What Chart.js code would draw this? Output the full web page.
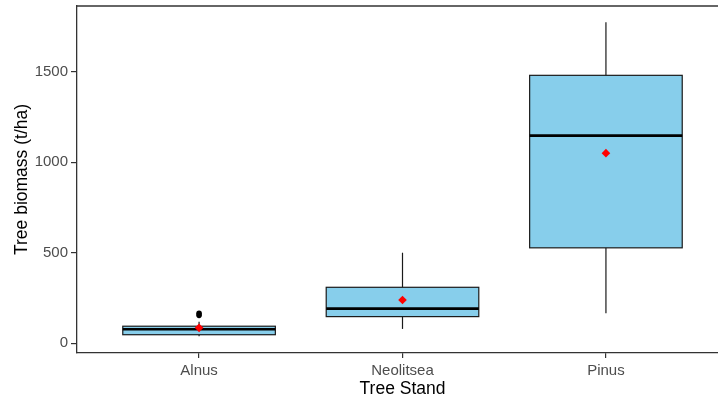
<!DOCTYPE html>
<html lang="en">
<head>
  <meta charset="UTF-8">
  <title>Tree biomass by stand</title>
  <script src="https://cdn.jsdelivr.net/npm/chart.js"></script>
  <style>
    body { margin: 0; overflow: hidden; background: #fff; }
    .wrap { position: relative; width: 730px; height: 400px; }
  </style>
</head>
<body>
  <div class="wrap"><canvas id="chart" width="730" height="400"></canvas></div>

  <script>
    // Box plot summary per stand
    const categories = ['Alnus', 'Neolitsea', 'Pinus'];
    const whiskerLow = [39, 79, 166];
    const q1 = [47, 147, 527];
    const median = [77, 191, 1147];
    const q3 = [94, 309, 1480];
    const whiskerHigh = [119, 500, 1773];
    const means = [85, 239, 1050];
    const outliers = [[154, 166], [], []];
    const yTicks = [0, 500, 1000, 1500];

    const boxHalf = 0.375;
    const font = 'Liberation Sans, Arial, sans-serif';

    function line(ctx, x1, y1, x2, y2) {
      ctx.beginPath();
      ctx.moveTo(x1, y1);
      ctx.lineTo(x2, y2);
      ctx.stroke();
    }

    // draws boxes, whiskers and medians through the chart scales
    const boxPlugin = {
      id: 'boxes',
      beforeDatasetsDraw(chart) {
        const { ctx, scales: { x, y } } = chart;
        ctx.save();
        categories.forEach((c, i) => {
          const cx = x.getPixelForValue(i + 1);
          const left = x.getPixelForValue(i + 1 - boxHalf);
          const right = x.getPixelForValue(i + 1 + boxHalf);
          const top = y.getPixelForValue(q3[i]);
          const bottom = y.getPixelForValue(q1[i]);

          ctx.strokeStyle = '#1a1a1a';
          ctx.lineWidth = 1.2;
          line(ctx, cx, y.getPixelForValue(whiskerLow[i]), cx, bottom);
          line(ctx, cx, top, cx, y.getPixelForValue(whiskerHigh[i]));

          ctx.fillStyle = '#87CEEB';
          ctx.fillRect(left, top, right - left, bottom - top);
          ctx.strokeRect(left, top, right - left, bottom - top);

          ctx.strokeStyle = '#000';
          ctx.lineWidth = 2.6;
          const ym = y.getPixelForValue(median[i]);
          line(ctx, left, ym, right, ym);
        });
        ctx.restore();
      },
      afterDraw(chart) {
        // top border of the panel
        const { ctx, chartArea } = chart;
        ctx.save();
        ctx.strokeStyle = '#333';
        ctx.lineWidth = 1.3;
        line(ctx, chartArea.left, chartArea.top, chartArea.right, chartArea.top);
        ctx.restore();
      }
    };

    const outlierPoints = [];
    outliers.forEach((list, i) => list.forEach(v => outlierPoints.push({ x: i + 1, y: v })));

    new Chart(document.getElementById('chart'), {
      type: 'scatter',
      data: {
        datasets: [
          {
            label: 'Outliers',
            data: outlierPoints,
            pointStyle: 'circle',
            pointRadius: 2.8,
            backgroundColor: '#000',
            borderColor: '#000',
            borderWidth: 0
          },
          {
            label: 'Mean',
            data: means.map((v, i) => ({ x: i + 1, y: v })),
            pointStyle: 'rectRot',
            pointRadius: 4.3,
            backgroundColor: '#ff0000',
            borderColor: '#ff0000',
            borderWidth: 0
          }
        ]
      },
      options: {
        responsive: false,
        animation: false,
        layout: { autoPadding: false, padding: { top: 6, right: 2, left: 0, bottom: 0 } },
        plugins: {
          legend: { display: false },
          tooltip: { enabled: false }
        },
        scales: {
          x: {
            type: 'linear',
            min: 0.4,
            max: 3.6,
            afterBuildTicks: s => { s.ticks = categories.map((c, i) => ({ value: i + 1 })); },
            afterFit: s => { s.height = 47; s.paddingLeft = 0; s.paddingRight = 0; },
            ticks: {
              callback: v => categories[v - 1],
              color: '#4d4d4d',
              font: { family: font, size: 15 },
              padding: 4,
              maxRotation: 0
            },
            grid: { display: true, drawOnChartArea: false, drawTicks: true, tickLength: 5, color: '#333', lineWidth: 1.2 },
            border: { display: true, color: '#333', width: 1.3 },
            title: {
              display: true,
              text: 'Tree Stand',
              color: '#000',
              font: { family: font, size: 17.5 },
              padding: { top: 0, bottom: 0 }
            }
          },
          y: {
            min: -54,
            max: 1863,
            afterBuildTicks: s => { s.ticks = yTicks.map(v => ({ value: v })); },
            afterFit: s => { s.width = 77; s.paddingTop = 0; s.paddingBottom = 0; },
            ticks: {
              callback: v => String(v),
              color: '#4d4d4d',
              font: { family: font, size: 15 },
              padding: 3
            },
            grid: { display: true, drawOnChartArea: false, drawTicks: true, tickLength: 6, color: '#333', lineWidth: 1.2 },
            border: { display: true, color: '#333', width: 1.3 },
            title: {
              display: true,
              text: 'Tree biomass (t/ha)',
              color: '#000',
              font: { family: font, size: 17.5 },
              padding: { top: 12, bottom: 0 }
            }
          }
        }
      },
      plugins: [boxPlugin]
    });
  </script>
</body>
</html>
